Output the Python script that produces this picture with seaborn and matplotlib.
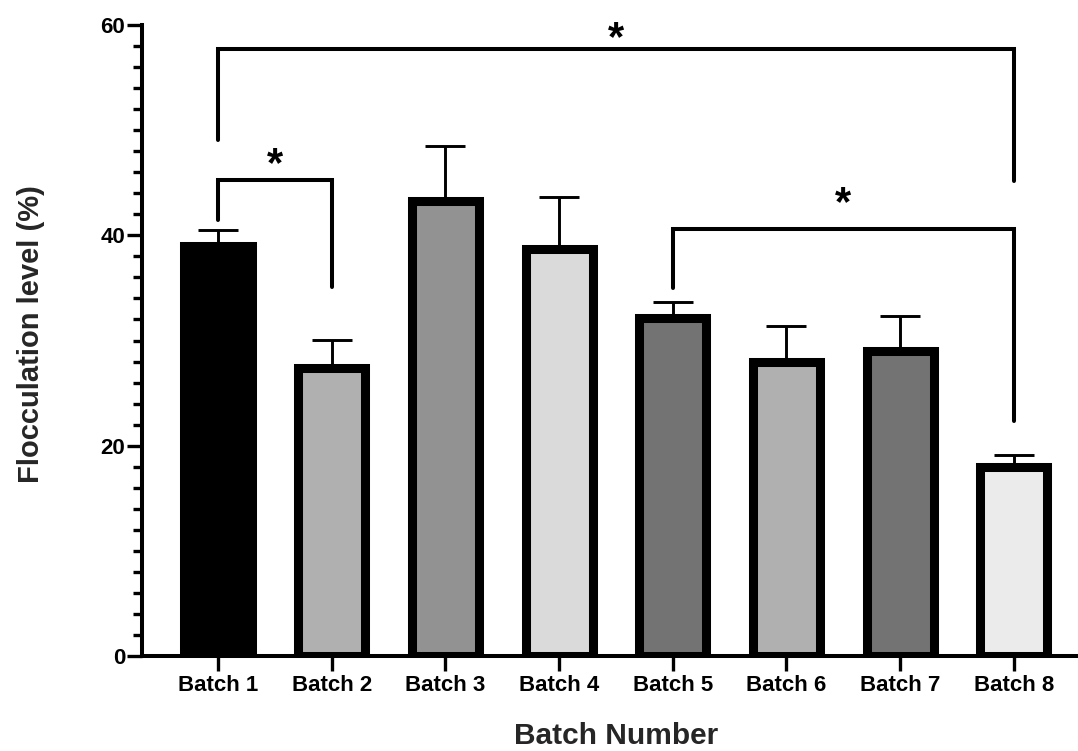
import matplotlib
matplotlib.use("Agg")
import matplotlib.pyplot as plt
import seaborn as sns
import pandas as pd
from matplotlib.ticker import MultipleLocator

# ---- data ----
batches = ["Batch 1", "Batch 2", "Batch 3", "Batch 4",
           "Batch 5", "Batch 6", "Batch 7", "Batch 8"]
means = [39.0, 27.35, 43.25, 38.7, 32.1, 28.0, 29.0, 18.0]
sds = [1.5, 2.7, 5.2, 4.9, 1.6, 3.4, 3.35, 1.1]
fills = ["#000000", "#b0b0b0", "#929292", "#dadada",
         "#737373", "#b0b0b0", "#737373", "#ebebeb"]
y_ticks = [0, 20, 40, 60]

# significance brackets: (left index, right index, bar height, left leg end, right leg end, star height, label)
brackets = [
    (0, 1, 45.25, 41.5, 35.05, 45.6, "*"),
    (4, 7, 40.56, 35.0, 22.37, 41.9, "*"),
    (0, 7, 57.7, 49.05, 45.15, 57.6, "*"),
]

sns.set_theme(style="ticks")
plt.rcParams["font.family"] = ["Liberation Sans", "DejaVu Sans"]
plt.rcParams["font.weight"] = "bold"

fig = plt.figure(figsize=(10.78, 7.51), dpi=100)
W, H = 1078, 751
ax = fig.add_axes([142 / W, (H - 656) / H, (1076 - 142) / W, (656 - 25) / H])

df = pd.DataFrame({"batch": batches, "value": means})
sns.barplot(data=df, x="batch", y="value", hue="batch", palette=fills,
            legend=False, width=0.59, edgecolor="black", linewidth=6.5,
            errorbar=None, ax=ax, saturation=1)

for p in ax.patches:
    p.set_zorder(2)

ax.errorbar(range(len(batches)), means, yerr=[[0] * len(sds), sds],
            fmt="none", ecolor="black", elinewidth=2.1, capsize=14.5,
            capthick=2.1, zorder=1)

ax.set_ylim(0, 60)
ax.set_xlim(-0.668, 7.546)
ax.set_yticks(y_ticks)
ax.yaxis.set_minor_locator(MultipleLocator(2))

for side in ["top", "right"]:
    ax.spines[side].set_visible(False)
for side in ["left", "bottom"]:
    ax.spines[side].set_linewidth(2.9)
    ax.spines[side].set_color("black")

ax.tick_params(axis="y", which="major", length=11, width=2.4, pad=1,
               labelsize=16, colors="black")
ax.tick_params(axis="y", which="minor", length=6.5, width=2.4, colors="black")
ax.tick_params(axis="x", which="major", length=11, width=2.4, pad=3,
               labelsize=16, colors="black")
for lab in ax.get_xticklabels() + ax.get_yticklabels():
    lab.set_fontweight("bold")

ax.set_xlabel("Batch Number", fontsize=21.5, fontweight="bold")
ax.set_ylabel("Flocculation level (%)", fontsize=21, fontweight="bold")
ax.xaxis.set_label_coords((616 - 142) / 934, (656 - 722) / 631)
ax.yaxis.set_label_coords((45 - 142) / 934, 0.51)

for i, j, h, lh, rh, sh, lab in brackets:
    ax.plot([i, i, j, j], [lh, h, h, rh], color="black", lw=2.9,
            solid_joinstyle="miter", solid_capstyle="round", clip_on=False,
            zorder=3)
    ax.text((i + j) / 2, sh, lab, ha="center", va="baseline",
            fontsize=30, fontweight="bold", color="black", clip_on=False)

fig.savefig("out.png", dpi=100)
